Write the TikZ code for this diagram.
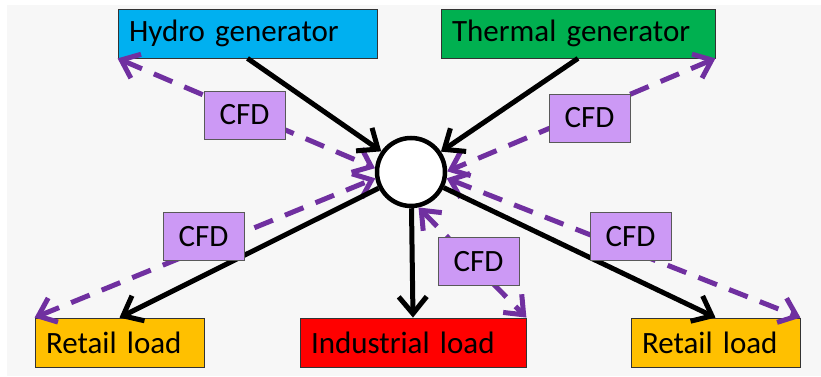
\documentclass[tikz,border=0pt]{standalone}
\usepackage{fontspec}
\setmainfont{Carlito}
\usetikzlibrary{arrows.meta}
\definecolor{hydroblue}{HTML}{00B0F0}
\definecolor{thermgreen}{HTML}{00B050}
\definecolor{retailgold}{HTML}{FFC000}
\definecolor{cfdlilac}{HTML}{CC99F5}
\definecolor{cfdpurple}{HTML}{7030A0}
\definecolor{slidegray}{HTML}{F7F7F7}
\begin{document}
\begin{tikzpicture}[x=1pt,y=-1pt, every node/.style={font=\fontsize{31}{36}\selectfont},
  box/.style={draw=black!80,line width=0.8pt,minimum height=49pt,inner xsep=11pt,inner ysep=0pt,align=left},
  cfd/.style={draw=black!65,line width=0.8pt,fill=cfdlilac,minimum width=81pt,minimum height=48pt,inner sep=0pt},
  flow/.style={line width=5pt,-{Straight Barb[length=17pt,width=28pt]}},
  contract/.style={line width=5pt,cfdpurple,dash pattern=on 20pt off 13pt,
    {Straight Barb[length=16pt,width=26pt]}-{Straight Barb[length=16pt,width=26pt]}}]
\useasboundingbox (0,0) rectangle (821,377);
\fill[white] (0,0) rectangle (821,377);
\fill[slidegray] (7,5) rectangle (821,376);
% generators
\node[box,fill=hydroblue,text width=237pt] (hydro) at (247.5,33.5) {Hydro generator};
\node[box,fill=thermgreen,text width=252pt] (thermal) at (578,33.5) {Thermal generator};
% bus
\node[circle,draw,line width=4.5pt,fill=white,minimum size=68pt] (bus) at (411,172) {};
% loads
\node[box,fill=retailgold,text width=147pt] (retailL) at (119.5,342.5) {Retail load};
\node[box,fill=red,text width=204pt] (indus) at (413,342.5) {Industrial load};
\node[box,fill=retailgold,text width=147pt] (retailR) at (715.5,342.5) {Retail load};
% contracts
\draw[contract] (hydro.south west) -- (bus.174);
\draw[contract] (thermal.south east) -- (bus.1);
\draw[contract] (retailL.north west) -- (bus.190);
\draw[contract] (bus.-78) -- (indus.north east);
\draw[contract] (bus.-10) -- (retailR.north east);
% power flows
\draw[flow] (hydro.south) -- (bus);
\draw[flow] (thermal.south) -- (bus);
\draw[flow] (bus) -- (retailL.north);
\draw[flow] (bus) -- (indus.north);
\draw[flow] (bus) -- (retailR.north);
% CFD labels
\node[cfd] (cfd1) at (244.5,115) {CFD};
\node[cfd] (cfd2) at (589.5,118) {CFD};
\node[cfd] (cfd3) at (203.5,236.5) {CFD};
\node[cfd] (cfd4) at (478.5,261.5) {CFD};
\node[cfd] (cfd5) at (630.5,236.5) {CFD};
\end{tikzpicture}
\end{document}
